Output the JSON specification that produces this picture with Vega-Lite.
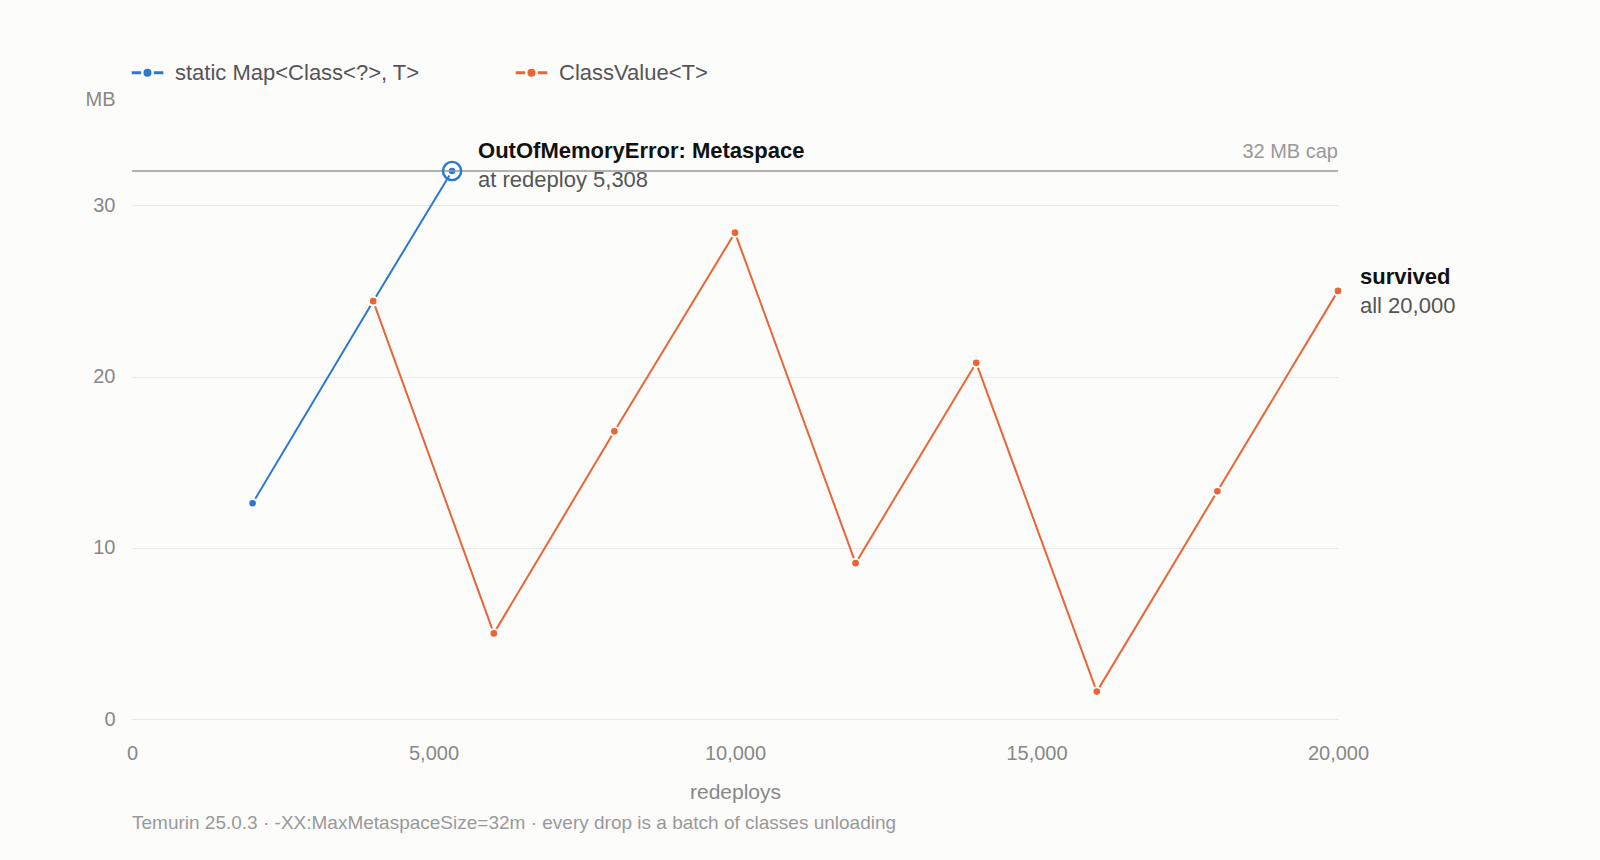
{
  "$schema": "https://vega.github.io/schema/vega-lite/v6.json",
  "width": 1206,
  "height": 548,
  "autosize": {"type": "none"},
  "padding": {"left": 132, "top": 171, "right": 262, "bottom": 141},
  "background": "#fcfcfb",
  "config": {
    "font": "Liberation Sans",
    "view": {"stroke": null},
    "axis": {"labelColor": "#888888", "titleColor": "#888888", "labelFontSize": 20, "titleFontSize": 21, "titleFontWeight": "normal", "domain": false, "ticks": false}
  },
  "layer": [
    {
      "data": {"values": [
        {"redeploys": 2000, "mb": 12.6, "series": "static Map<Class<?>, T>"},
        {"redeploys": 4000, "mb": 24.4, "series": "static Map<Class<?>, T>"},
        {"redeploys": 5308, "mb": 32.0, "series": "static Map<Class<?>, T>"},
        {"redeploys": 4000, "mb": 24.4, "series": "ClassValue<T>"},
        {"redeploys": 6000, "mb": 5.0, "series": "ClassValue<T>"},
        {"redeploys": 8000, "mb": 16.8, "series": "ClassValue<T>"},
        {"redeploys": 10000, "mb": 28.4, "series": "ClassValue<T>"},
        {"redeploys": 12000, "mb": 9.1, "series": "ClassValue<T>"},
        {"redeploys": 14000, "mb": 20.8, "series": "ClassValue<T>"},
        {"redeploys": 16000, "mb": 1.6, "series": "ClassValue<T>"},
        {"redeploys": 18000, "mb": 13.3, "series": "ClassValue<T>"},
        {"redeploys": 20000, "mb": 25.0, "series": "ClassValue<T>"}
      ]},
      "encoding": {
        "x": {
          "field": "redeploys", "type": "quantitative",
          "scale": {"domain": [0, 20000], "nice": false},
          "axis": {"grid": false, "values": [0, 5000, 10000, 15000, 20000], "format": ",d", "labelFlush": false, "labelBound": false, "labelPadding": 24, "titlePadding": 18, "title": "redeploys"}
        },
        "y": {
          "field": "mb", "type": "quantitative",
          "scale": {"domain": [0, 32], "nice": false},
          "axis": {"values": [0, 10, 20, 30], "format": "d", "gridColor": "#e8e8e6", "gridWidth": 1.2, "labelPadding": 17, "title": "MB", "titleFontSize": 20, "titleAngle": 0, "titleAlign": "right", "titleBaseline": "middle", "titleX": -17, "titleY": -72}
        },
        "color": {
          "field": "series", "type": "nominal",
          "scale": {"domain": ["static Map<Class<?>, T>", "ClassValue<T>"], "range": ["#2a77d4", "#ea6535"]},
          "legend": {
            "title": null, "orient": "none", "legendX": -2, "legendY": -116, "direction": "horizontal",
            "symbolType": "M-1,0H-0.4M0.4,0H1M-0.16,0a0.16,0.16 0 1,0 0.32,0a0.16,0.16 0 1,0 -0.32,0",
            "symbolSize": 1000, "symbolStrokeWidth": 3, "labelFontSize": 22, "labelColor": "#555555", "labelOffset": 10, "columnPadding": 89, "labelLimit": 400
          }
        }
      },
      "layer": [
        {"mark": {"type": "line", "strokeWidth": 2}},
        {"mark": {"type": "point", "filled": true, "size": 75, "opacity": 1, "stroke": "#fcfcfb", "strokeWidth": 2}}
      ]
    },
    {
      "data": {"values": [{"mb": 32, "label": "32 MB cap"}]},
      "layer": [
        {"mark": {"type": "rule", "color": "#999999", "strokeWidth": 1.6}, "encoding": {"y": {"field": "mb", "type": "quantitative"}}},
        {
          "mark": {"type": "text", "align": "right", "baseline": "bottom", "dy": -9, "fontSize": 20, "color": "#999999"},
          "encoding": {"y": {"field": "mb", "type": "quantitative"}, "x": {"datum": 20000, "type": "quantitative"}, "text": {"field": "label"}}
        }
      ]
    },
    {
      "data": {"values": [{"redeploys": 5308, "mb": 32}]},
      "mark": {"type": "point", "filled": false, "size": 330, "color": "#2a77d4", "strokeWidth": 2.4, "opacity": 1},
      "encoding": {"x": {"field": "redeploys", "type": "quantitative"}, "y": {"field": "mb", "type": "quantitative"}}
    },
    {
      "data": {"values": [{"redeploys": 5308, "mb": 32, "head": "OutOfMemoryError: Metaspace", "sub": "at redeploy 5,308"}]},
      "encoding": {"x": {"field": "redeploys", "type": "quantitative"}, "y": {"field": "mb", "type": "quantitative"}},
      "layer": [
        {"mark": {"type": "text", "align": "left", "baseline": "middle", "dx": 26, "dy": -20, "fontSize": 22, "fontWeight": "bold", "color": "#111111"}, "encoding": {"text": {"field": "head"}}},
        {"mark": {"type": "text", "align": "left", "baseline": "middle", "dx": 26, "dy": 9, "fontSize": 22, "color": "#555555"}, "encoding": {"text": {"field": "sub"}}}
      ]
    },
    {
      "data": {"values": [{"redeploys": 20000, "mb": 25.0, "head": "survived", "sub": "all 20,000"}]},
      "encoding": {"x": {"field": "redeploys", "type": "quantitative"}, "y": {"field": "mb", "type": "quantitative"}},
      "layer": [
        {"mark": {"type": "text", "align": "left", "baseline": "middle", "dx": 22, "dy": -14, "fontSize": 22, "fontWeight": "bold", "color": "#111111"}, "encoding": {"text": {"field": "head"}}},
        {"mark": {"type": "text", "align": "left", "baseline": "middle", "dx": 22, "dy": 15, "fontSize": 22, "color": "#555555"}, "encoding": {"text": {"field": "sub"}}}
      ]
    },
    {
      "data": {"values": [{"note": "Temurin 25.0.3 · -XX:MaxMetaspaceSize=32m · every drop is a batch of classes unloading"}]},
      "mark": {"type": "text", "align": "left", "baseline": "middle", "fontSize": 19, "color": "#999999", "x": 0, "y": 652},
      "encoding": {"text": {"field": "note"}}
    }
  ]
}
